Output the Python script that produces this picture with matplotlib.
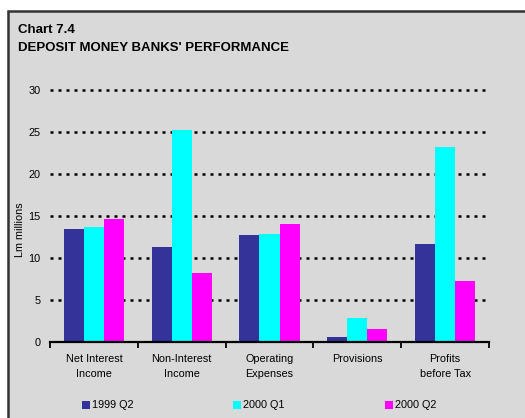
import matplotlib
matplotlib.use("Agg")
import matplotlib.pyplot as plt
from matplotlib.patches import Rectangle
import numpy as np

plt.rcParams['font.family'] = ['Liberation Sans', 'DejaVu Sans']

categories = ["Net Interest\nIncome", "Non-Interest\nIncome", "Operating\nExpenses",
              "Provisions", "Profits\nbefore Tax"]
series_names = ["1999 Q2", "2000 Q1", "2000 Q2"]
q2_1999 = [13.4, 11.3, 12.7, 0.6, 11.65]
q1_2000 = [13.7, 25.2, 12.8, 2.85, 23.2]
q2_2000 = [14.6, 8.2, 14.0, 1.55, 7.25]
colors = ["#333399", "#00ffff", "#ff00ff"]
yticks = [0, 5, 10, 15, 20, 25, 30]

W, H = 525, 418
fig = plt.figure(figsize=(W / 100, H / 100), dpi=100)
fig.patch.set_facecolor("white")

# grey chart frame (runs off the right and bottom edges)
frame = Rectangle((8 / W, -0.05), 1.0, 1.05 - 11 / H, transform=fig.transFigure,
                  facecolor="#d9d9d9", edgecolor="#333333", linewidth=1.8, zorder=-5)
fig.patches.append(frame)

fig.text(18 / W, 1 - 30 / H, "Chart 7.4", fontsize=9.5, fontweight="bold", va="center")
fig.text(18 / W, 1 - 48 / H, "DEPOSIT MONEY BANKS' PERFORMANCE", fontsize=9.5,
         fontweight="bold", va="center")

ax = fig.add_axes([50 / W, 1 - 342 / H, (489 - 50) / W, (342 - 90) / H])
ax.set_facecolor("none")

x = np.arange(len(categories))
bw = 0.228
for i, (vals, c) in enumerate(zip([q2_1999, q1_2000, q2_2000], colors)):
    ax.bar(x + (i - 1) * bw, vals, width=bw, color=c, edgecolor="none", zorder=3)

ax.set_xlim(-0.5, len(categories) - 0.5)
ax.set_ylim(0, 30)
ax.set_yticks(yticks)
for t in yticks[1:]:
    ax.axhline(t, color="black", linewidth=1.8, linestyle=(0, (1.2, 2.0)),
               dash_capstyle="butt", zorder=2, clip_on=False)

for s in ["top", "right", "left"]:
    ax.spines[s].set_visible(False)
ax.spines["bottom"].set_linewidth(1.6)
ax.spines["bottom"].set_zorder(4)

ax.set_xticks(np.arange(len(categories) + 1) - 0.5)
ax.set_xticklabels([])
ax.set_xticks(x, minor=True)
ax.set_xticklabels(categories, minor=True, fontsize=7.8, linespacing=1.6)
ax.tick_params(axis="x", which="major", direction="out", length=4, width=1.3)
ax.tick_params(axis="x", which="minor", length=0, pad=9)
ax.tick_params(axis="y", length=0, pad=7, labelsize=7.8)

fig.text(20 / W, 1 - 230 / H, "Lm millions", rotation=90, fontsize=7.8,
         ha="center", va="center")

# legend
leg_x = [82, 233, 385]
for lx, name, c in zip(leg_x, series_names, colors):
    fig.patches.append(Rectangle((lx / W, 1 - 409 / H), 8 / W, 8 / H,
                                 transform=fig.transFigure, facecolor=c, edgecolor="none"))
    fig.text((lx + 10) / W, 1 - 405 / H, name, fontsize=7.8, va="center")

fig.savefig("out.png", dpi=100)
